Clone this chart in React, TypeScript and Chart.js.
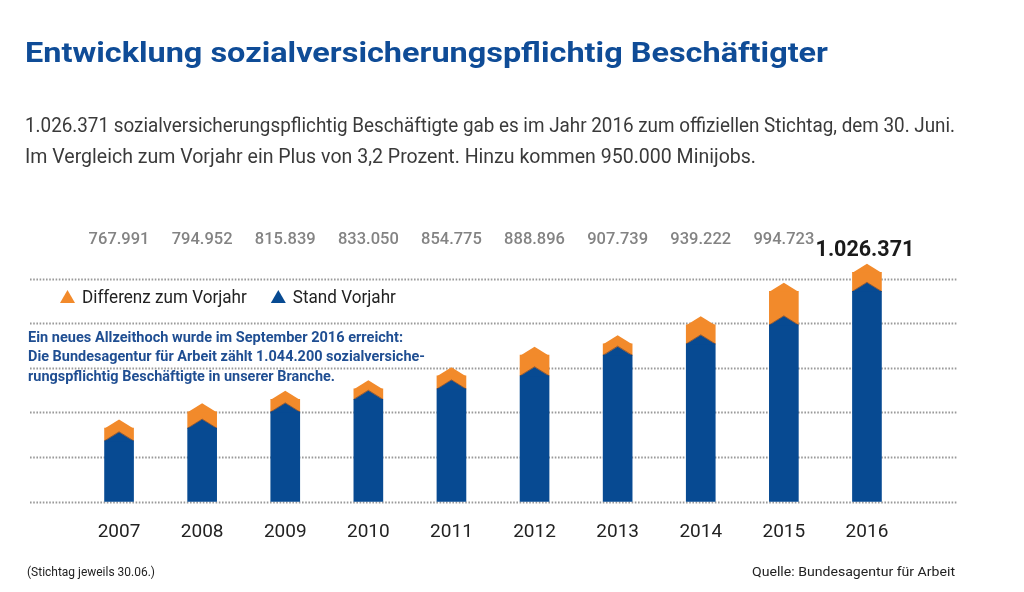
import React, { useEffect, useLayoutEffect, useRef } from 'react';
import { Chart, registerables } from 'chart.js';

Chart.register(...registerables);

// ---------- data ----------
const years = ['2007', '2008', '2009', '2010', '2011', '2012', '2013', '2014', '2015', '2016'];
const totals = [767991, 794952, 815839, 833050, 854775, 888896, 907739, 939222, 994723, 1026371];
// "Stand Vorjahr": value of the previous year (2006)
const previousYear = [747000, 767991, 794952, 815839, 833050, 854775, 888896, 907739, 939222, 994723];
const seriesLabels = ['Stand Vorjahr', 'Differenz zum Vorjahr'];
const yMin = 646000;
const yMax = 1016000;
const yStep = 74000;

const BLUE = '#074a92';
const ORANGE = '#f28a2b';

const fmt = (n: number) => String(n).replace(/\B(?=(\d{3})+(?!\d))/g, '.');

function Fit({ text, left, top, width, style }: { text: string; left: number; top: number; width: number; style: React.CSSProperties }) {
  const ref = useRef<HTMLSpanElement>(null);
  useLayoutEffect(() => {
    const el = ref.current;
    if (!el) return;
    el.style.transform = 'none';
    const w = el.getBoundingClientRect().width;
    if (w > 0) el.style.transform = `scaleX(${width / w})`;
  }, [text, width]);
  return (
    <span
      ref={ref}
      style={{
        position: 'absolute',
        left,
        top,
        whiteSpace: 'nowrap',
        transformOrigin: '0 0',
        lineHeight: 1,
        fontFamily: 'Roboto, sans-serif',
        ...style,
      }}
    >
      {text}
    </span>
  );
}

const gridPlugin = {
  id: 'dottedGrid',
  beforeDatasetsDraw(chart: any) {
    const ctx = chart.ctx;
    const y = chart.scales.y;
    ctx.save();
    ctx.strokeStyle = '#9a9a9a';
    ctx.lineWidth = 1.8;
    ctx.setLineDash([1.6, 1.6]);
    for (let v = yMin; v <= yMax + 1; v += yStep) {
      const py = Math.round(y.getPixelForValue(v)) + 0.5;
      ctx.beginPath();
      ctx.moveTo(30, py);
      ctx.lineTo(957, py);
      ctx.stroke();
    }
    ctx.restore();
  },
};

const TIP = 8.5;

const chevronPlugin = {
  id: 'chevrons',
  afterDatasetsDraw(chart: any) {
    const ctx = chart.ctx;
    const blueMeta = chart.getDatasetMeta(0);
    const orangeMeta = chart.getDatasetMeta(1);
    ctx.save();
    orangeMeta.data.forEach((bar: any) => {
      const { x, y, width } = bar.getProps(['x', 'y', 'width'], true);
      ctx.fillStyle = ORANGE;
      ctx.beginPath();
      ctx.moveTo(x - width / 2, y + 0.5);
      ctx.lineTo(x, y - TIP);
      ctx.lineTo(x + width / 2, y + 0.5);
      ctx.closePath();
      ctx.fill();
    });
    blueMeta.data.forEach((bar: any) => {
      const { x, y, width } = bar.getProps(['x', 'y', 'width'], true);
      ctx.fillStyle = BLUE;
      ctx.beginPath();
      ctx.moveTo(x - width / 2, y + 0.5);
      ctx.lineTo(x, y - TIP);
      ctx.lineTo(x + width / 2, y + 0.5);
      ctx.closePath();
      ctx.fill();
      ctx.strokeStyle = 'rgba(40,40,70,0.45)';
      ctx.lineWidth = 1;
      ctx.beginPath();
      ctx.moveTo(x - width / 2, y);
      ctx.lineTo(x, y - TIP - 0.5);
      ctx.lineTo(x + width / 2, y);
      ctx.stroke();
    });
    ctx.restore();
  },
};

const valueLabelPlugin = {
  id: 'valueLabels',
  afterDatasetsDraw(chart: any) {
    const ctx = chart.ctx;
    const meta = chart.getDatasetMeta(1);
    ctx.save();
    ctx.textAlign = 'center';
    ctx.textBaseline = 'alphabetic';
    meta.data.forEach((bar: any, i: number) => {
      const last = i === totals.length - 1;
      if (last) {
        ctx.font = 'bold 21.5px Roboto';
        ctx.fillStyle = '#1a1a1a';
        ctx.fillText(fmt(totals[i]), bar.x - 2, 256);
      } else {
        ctx.font = '500 16.5px Roboto';
        ctx.fillStyle = '#838383';
        ctx.fillText(fmt(totals[i]), bar.x, 243.5);
      }
    });
    ctx.restore();
  },
};

const legendPlugin = {
  id: 'customLegend',
  afterDraw(chart: any) {
    const ctx = chart.ctx;
    const items = chart.data.datasets
      .map((d: any) => ({ label: d.label, color: d.backgroundColor }))
      .reverse();
    let x = 60;
    const yBase = 303;
    const sx = 0.9;
    ctx.save();
    ctx.font = '19px Roboto';
    items.forEach((it: any) => {
      ctx.fillStyle = it.color;
      ctx.beginPath();
      ctx.moveTo(x, yBase);
      ctx.lineTo(x + 7.5, yBase - 13);
      ctx.lineTo(x + 15, yBase);
      ctx.closePath();
      ctx.fill();
      const tx = x + 22;
      const w = ctx.measureText(it.label).width * sx;
      ctx.save();
      ctx.translate(tx, yBase);
      ctx.scale(sx, 1);
      ctx.fillStyle = '#222';
      ctx.textBaseline = 'alphabetic';
      ctx.fillText(it.label, 0, 0);
      ctx.restore();
      x = tx + w + 24;
    });
    ctx.restore();
  },
};

function ChartCanvas() {
  const ref = useRef<HTMLCanvasElement>(null);
  useEffect(() => {
    if (!ref.current) return;
    const diff = totals.map((t, i) => t - previousYear[i]);
    const clip = { left: false, right: false, top: false, bottom: 0 } as any;
    const chart = new Chart(ref.current, {
      type: 'bar',
      data: {
        labels: years,
        datasets: [
          { label: seriesLabels[0], data: previousYear, backgroundColor: BLUE, barThickness: 29, clip },
          { label: seriesLabels[1], data: diff, backgroundColor: ORANGE, barThickness: 29, clip },
        ],
      },
      options: {
        animation: false,
        responsive: false,
        devicePixelRatio: 1,
        layout: { padding: { left: 77.5, right: 115.5, top: 278.5, bottom: 29.5 } },
        plugins: { legend: { display: false }, tooltip: { enabled: false } },
        scales: {
          x: {
            stacked: true,
            grid: { display: false, drawTicks: false },
            border: { display: false },
            ticks: { color: '#222', font: { family: 'Roboto', size: 19 }, padding: 19 },
          },
          y: {
            display: false,
            stacked: true,
            min: yMin,
            max: yMax,
            ticks: { stepSize: yStep },
          },
        },
      },
      plugins: [gridPlugin, chevronPlugin, valueLabelPlugin, legendPlugin],
    } as any);
    return () => chart.destroy();
  }, []);
  return (
    <canvas
      ref={ref}
      width={1024}
      height={592}
      style={{ position: 'absolute', left: 0, top: 0, width: 1024, height: 592 }}
    />
  );
}

export default function App() {
  const annColor = '#1f4e92';
  return (
    <div
      style={{
        position: 'fixed',
        left: 0,
        top: 0,
        width: 1024,
        height: 592,
        background: '#fff',
        overflow: 'hidden',
      }}
    >
      <ChartCanvas />
      <Fit
        text="Entwicklung sozialversicherungspflichtig Beschäftigter"
        left={25}
        top={39}
        width={803}
        style={{ fontSize: 28, fontWeight: 700, color: '#0f4c97' }}
      />
      <Fit
        text="1.026.371 sozialversicherungspflichtig Beschäftigte gab es im Jahr 2016 zum offiziellen Stichtag, dem 30. Juni."
        left={25}
        top={115.2}
        width={930}
        style={{ fontSize: 20, fontWeight: 400, color: '#3a3a3a' }}
      />
      <Fit
        text="Im Vergleich zum Vorjahr ein Plus von 3,2 Prozent. Hinzu kommen 950.000 Minijobs."
        left={25}
        top={146.2}
        width={731}
        style={{ fontSize: 20, fontWeight: 400, color: '#3a3a3a' }}
      />
      <Fit
        text="Ein neues Allzeithoch wurde im September 2016 erreicht:"
        left={28}
        top={329.7}
        width={375}
        style={{ fontSize: 14, fontWeight: 700, color: annColor }}
      />
      <Fit
        text="Die Bundesagentur für Arbeit zählt 1.044.200 sozialversiche-"
        left={28}
        top={349.2}
        width={397}
        style={{ fontSize: 14, fontWeight: 700, color: annColor }}
      />
      <Fit
        text="rungspflichtig Beschäftigte in unserer Branche."
        left={28}
        top={368.7}
        width={307}
        style={{ fontSize: 14, fontWeight: 700, color: annColor }}
      />
      <Fit
        text="(Stichtag jeweils 30.06.)"
        left={27}
        top={566}
        width={128}
        style={{ fontSize: 12, fontWeight: 400, color: '#222' }}
      />
      <Fit
        text="Quelle: Bundesagentur für Arbeit"
        left={752}
        top={564.6}
        width={203}
        style={{ fontSize: 13.5, fontWeight: 400, color: '#222' }}
      />
    </div>
  );
}
